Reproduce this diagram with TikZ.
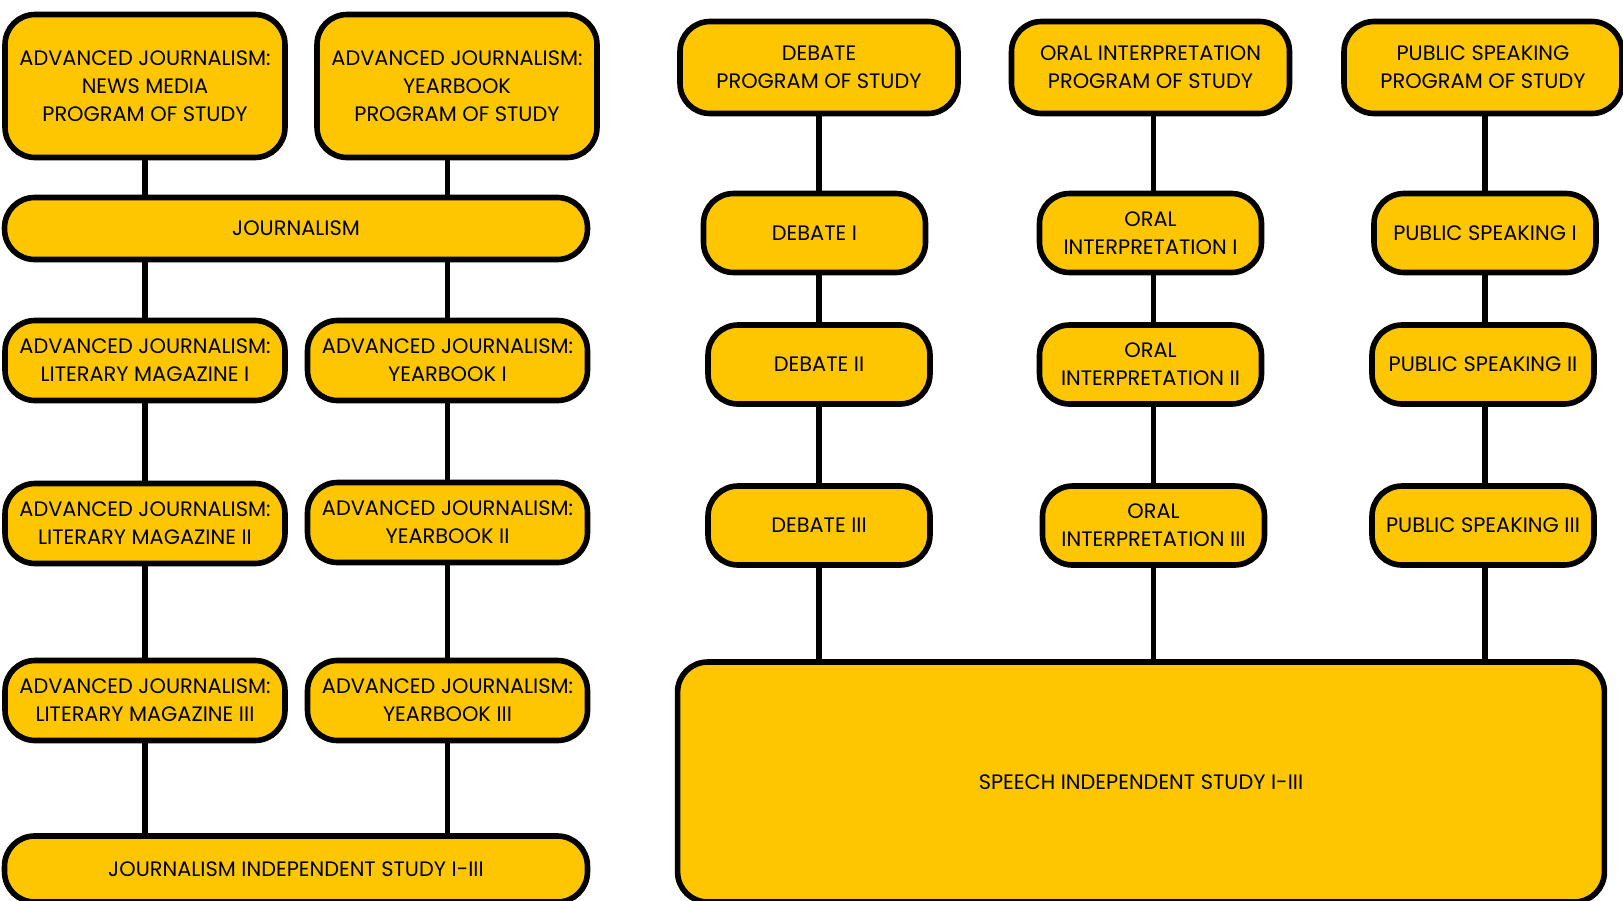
\documentclass[tikz,border=0pt]{standalone}
\usepackage{fontspec}
\setmainfont{Poppins}
\usepackage{tikz}
\usetikzlibrary{calc,shapes,backgrounds}
\definecolor{gold}{RGB}{254,198,0}

\begin{document}
\begin{tikzpicture}[x=0.02cm, y=-0.02cm, line width=2.9pt,
    course/.style={draw, line width=3.2pt, fill=gold, rounded corners=0.6cm, align=center,
      inner sep=0pt, font=\fontsize{11.9}{15.8}\selectfont},
    wide/.style={course, minimum width=5.6cm, minimum height=1.6cm},
    small/.style={course, minimum width=4.44cm, minimum height=1.58cm}]
  \useasboundingbox (0,0) rectangle (1623,900);
  % journalism side
  \node [course, minimum width=5.6cm, minimum height=2.86cm] (nm) at (145, 86) {ADVANCED JOURNALISM:\\NEWS MEDIA\\PROGRAM OF STUDY};
  \node [course, minimum width=5.6cm, minimum height=2.86cm] (yb) at (457, 86) {ADVANCED JOURNALISM:\\YEARBOOK\\PROGRAM OF STUDY};
  \node [course, minimum width=11.66cm, minimum height=1.24cm] (jour) at (296, 228.5) {JOURNALISM};
  \node [wide] (lm1) at (145, 360.5) {ADVANCED JOURNALISM:\\LITERARY MAGAZINE I};
  \node [wide] (yb1) at (447.5, 360.5) {ADVANCED JOURNALISM:\\YEARBOOK I};
  \node [wide] (lm2) at (145, 523.5) {ADVANCED JOURNALISM:\\LITERARY MAGAZINE II};
  \node [wide] (yb2) at (447.5, 522.5) {ADVANCED JOURNALISM:\\YEARBOOK II};
  \node [wide] (lm3) at (145, 700.5) {ADVANCED JOURNALISM:\\LITERARY MAGAZINE III};
  \node [wide] (yb3) at (447.5, 700.5) {ADVANCED JOURNALISM:\\YEARBOOK III};
  \node [course, minimum width=11.66cm, minimum height=1.32cm] (jis) at (296, 869) {JOURNALISM INDEPENDENT STUDY I-III};
  \path (lm1.north |- nm.south) edge (lm1.north |- jour.north);
  \path (yb1.north |- yb.south) edge (yb1.north |- jour.north);
  \path (lm1.north |- jour.south) edge (lm1.north);
  \path (yb1.north |- jour.south) edge (yb1.north);
  \path (lm1.south) edge (lm2.north);
  \path (yb1.south) edge (yb1.south |- yb2.north);
  \path (lm2.south) edge (lm3.north);
  \path (yb1.south |- yb2.south) edge (yb1.south |- yb3.north);
  \path (lm3.south) edge (lm3.south |- jis.north);
  \path (yb3.south) edge (yb3.south |- jis.north);
  % speech side
  \node [course, minimum width=5.56cm, minimum height=1.84cm] (dpos) at (819, 67.5) {DEBATE\\PROGRAM OF STUDY};
  \node [course, minimum width=5.56cm, minimum height=1.84cm] (opos) at (1150.5, 67.5) {ORAL INTERPRETATION\\PROGRAM OF STUDY};
  \node [course, minimum width=5.56cm, minimum height=1.84cm] (ppos) at (1483, 67.5) {PUBLIC SPEAKING\\PROGRAM OF STUDY};
  \node [small] (d1) at (814.5, 233) {DEBATE I};
  \node [small] (o1) at (1150.5, 233) {ORAL\\INTERPRETATION I};
  \node [small] (p1) at (1485, 233) {PUBLIC SPEAKING I};
  \node [small] (d2) at (819, 364.5) {DEBATE II};
  \node [small] (o2) at (1150.5, 364.5) {ORAL\\INTERPRETATION II};
  \node [small] (p2) at (1483, 364.5) {PUBLIC SPEAKING II};
  \node [small] (d3) at (819, 525.5) {DEBATE III};
  \node [small] (o3) at (1153.5, 525.5) {ORAL\\INTERPRETATION III};
  \node [small] (p3) at (1483, 525.5) {PUBLIC SPEAKING III};
  \node [course, minimum width=18.54cm, minimum height=4.8cm] (sis) at (1141, 782) {SPEECH INDEPENDENT STUDY I-III};
  \path (dpos.south) edge (dpos.south |- d1.north);
  \path (d2.north |- d1.south) edge (d2.north);
  \path (d2.south) edge (d3.north);
  \path (d3.south) edge (d3.south |- sis.north);
  \path (o3.north |- opos.south) edge (o3.north |- o1.north);
  \path (o3.north |- o1.south) edge (o3.north |- o2.north);
  \path (o3.north |- o2.south) edge (o3.north);
  \path (o3.south) edge (o3.south |- sis.north);
  \path (p1.north |- ppos.south) edge (p1.north);
  \path (p1.south) edge (p1.south |- p2.north);
  \path (p1.south |- p2.south) edge (p1.south |- p3.north);
  \path (p1.south |- p3.south) edge (p1.south |- sis.north);
\end{tikzpicture}
\end{document}
